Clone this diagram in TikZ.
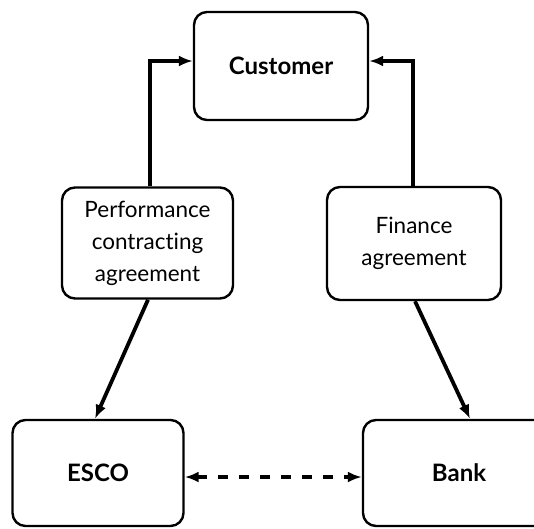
\documentclass[tikz,border=0pt]{standalone}
\usepackage{fontspec}
\setmainfont{Lato}[Ligatures=NoCommon]
\usetikzlibrary{arrows.meta}
\begin{document}
\begin{tikzpicture}[x=1pt,y=-1pt,
  box/.style={draw,line width=2.4pt,rounded corners=13pt,align=center,inner sep=0pt,
    font=\fontsize{22.5}{32}\selectfont},
  bbox/.style={box,font=\fontsize{24}{32}\selectfont\bfseries},
  arr/.style={line width=3.8pt,-{Latex[length=14pt,width=11pt]}},
  darr/.style={line width=3.8pt,dash pattern=on 10pt off 11pt,{Latex[length=14pt,width=11pt]}-{Latex[length=14pt,width=11pt]}}]
\useasboundingbox (0,0) rectangle (534,528);
\clip (0,0) rectangle (534,528);
\node[bbox,minimum width=174pt,minimum height=108pt] (cust) at (281,66) {Customer};
\node[box,minimum width=171pt,minimum height=111pt] (perf) at (147.5,243) {Performance\\contracting\\agreement};
\node[box,minimum width=174pt,minimum height=113pt] (fin) at (414,243.5) {Finance\\agreement};
\node[bbox,minimum width=171pt,minimum height=106pt] (esco) at (98,473) {ESCO};
\node[bbox,minimum width=192pt,minimum height=106pt] (bank) at (459,473) {Bank};
\draw[arr] ([xshift=2.5pt]perf.north) |- ([yshift=5pt]cust.west);
\draw[arr] ([xshift=-1pt]fin.north) |- ([yshift=5pt]cust.east);
\draw[arr] ([xshift=0.5pt]perf.south) -- ([xshift=-3pt]esco.north);
\draw[arr] ([xshift=1pt]fin.south) -- ([xshift=11pt]bank.north);
\draw[darr] ([yshift=-4pt]esco.east) -- ([yshift=-4pt]bank.west);
\end{tikzpicture}
\end{document}
